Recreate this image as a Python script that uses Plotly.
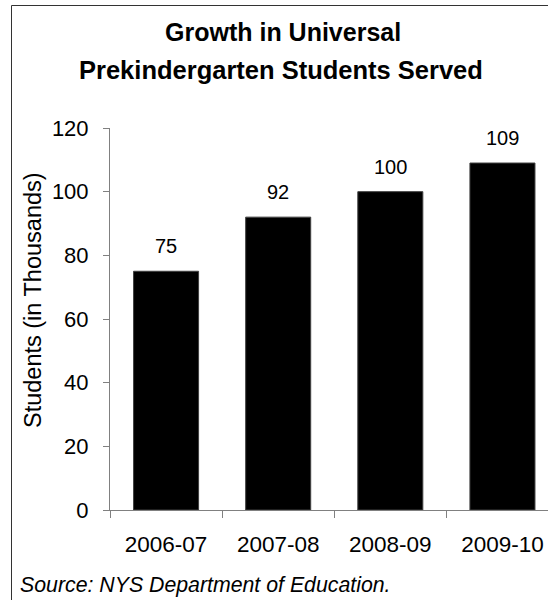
import plotly.graph_objects as go

# School years and enrollment (thousands of students)
years = ["2006-07", "2007-08", "2008-09", "2009-10"]
students = [75, 92, 100, 109]
y_ticks = [0, 20, 40, 60, 80, 100, 120]

FONT = "Liberation Sans, Arial, sans-serif"
W, H = 548, 600
ML, MR, MT, MB = 110, 0, 128, 90
PW, PH = W - ML - MR, H - MT - MB


def px_x(p):
    return (p - ML) / PW


def px_y(p):
    return (H - MB - p) / PH


fig = go.Figure()
fig.add_trace(go.Bar(
    x=years, y=students,
    marker=dict(color="black", line=dict(color="#404040", width=1)),
    hoverinfo="x+y",
))

# value labels above each bar
annotations = [
    dict(x=yr, y=v, xref="x", yref="y", text=str(v), showarrow=False,
         yanchor="bottom", yshift=12, font=dict(family=FONT, size=20, color="black"))
    for yr, v in zip(years, students)
]

# two-line title, axis title and source note
annotations += [
    dict(x=px_x(283), y=px_y(32), xref="paper", yref="paper", text="<b>Growth in Universal</b>",
         showarrow=False, xanchor="center", yanchor="middle",
         font=dict(family=FONT, size=25, color="black")),
    dict(x=px_x(281), y=px_y(70), xref="paper", yref="paper",
         text="<b>Prekindergarten Students Served</b>",
         showarrow=False, xanchor="center", yanchor="middle",
         font=dict(family=FONT, size=25.5, color="black")),
    dict(x=px_x(33), y=px_y(300), xref="paper", yref="paper", text="Students (in Thousands)",
         textangle=-90, showarrow=False, xanchor="center", yanchor="middle",
         font=dict(family=FONT, size=23.5, color="black")),
    dict(x=px_x(18), y=px_y(585), xref="paper", yref="paper",
         text="<i>Source: NYS Department of Education.</i>",
         showarrow=False, xanchor="left", yanchor="middle",
         font=dict(family=FONT, size=21.3, color="black")),
]

fig.update_layout(
    width=W, height=H,
    margin=dict(l=ML, r=MR, t=MT, b=MB, pad=0),
    paper_bgcolor="white", plot_bgcolor="white",
    showlegend=False,
    bargap=0.42,
    annotations=annotations,
    shapes=[dict(type="rect", xref="paper", yref="paper",
                 x0=px_x(11.5), x1=px_x(W + 20), y0=px_y(H + 20), y1=px_y(5.5),
                 line=dict(color="#333333", width=1), fillcolor="rgba(0,0,0,0)",
                 layer="below")],
    font=dict(family=FONT, color="black"),
)

fig.update_xaxes(
    type="category", automargin=False,
    range=[-0.5, (W - 166.5) / 112],
    showline=True, linecolor="#808080", linewidth=1,
    ticks="outside", tickson="boundaries", ticklen=7, tickcolor="#808080",
    showgrid=False, zeroline=False, tickangle=0,
    tickfont=dict(family=FONT, size=22.5, color="black"),
    ticklabelstandoff=14,
)
fig.update_yaxes(
    range=[0, 120], tickvals=y_ticks, automargin=False,
    showline=True, linecolor="#808080", linewidth=1,
    ticks="outside", ticklen=6, tickcolor="#808080",
    showgrid=False, zeroline=False,
    tickfont=dict(family=FONT, size=22, color="black"),
    ticklabelstandoff=10,
)

fig.write_html("out.html")
